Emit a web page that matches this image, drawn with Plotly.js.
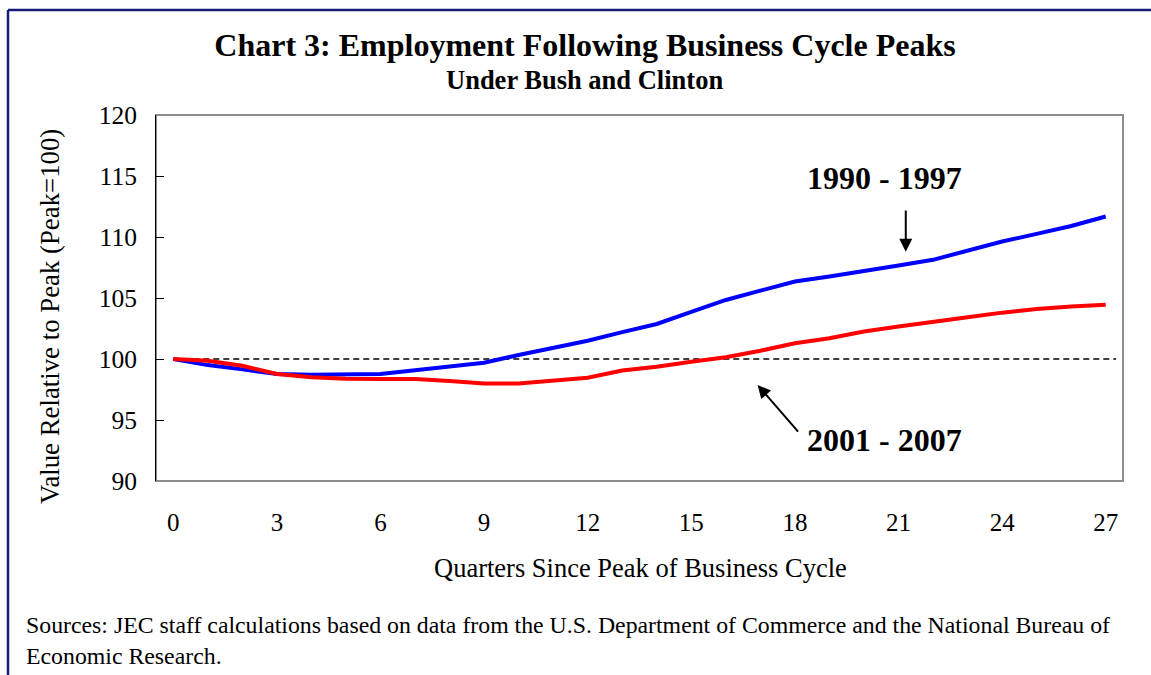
<!DOCTYPE html>
<html>
<head>
<meta charset="utf-8">
<script src="https://cdn.plot.ly/plotly-3.0.1.min.js"></script>
<style>
  body { margin: 0; background: #fff; }
  #chart { width: 1151px; height: 675px; }
</style>
</head>
<body>
<div id="chart"></div>
<script>
// quarters since the peak
let quarters = [];
for (let q = 0; q <= 27; q++) quarters.push(q);

// 1990 - 1997 (blue)
let clinton = [100, 99.5, 99.15, 98.77, 98.7, 98.72, 98.77, 99.07, 99.37, 99.7,
    100.33, 100.88, 101.5, 102.2, 102.87, 103.86, 104.84, 105.6, 106.35, 106.77,
    107.18, 107.67, 108.13, 108.9, 109.63, 110.26, 110.9, 111.68];

// 2001 - 2007 (red)
let bush = [100, 99.86, 99.45, 98.77, 98.5, 98.38, 98.36, 98.36, 98.2, 98.0,
    98.0, 98.2, 98.47, 99.05, 99.37, 99.78, 100.14, 100.68, 101.29, 101.7,
    102.25, 102.66, 103.07, 103.42, 103.8, 104.1, 104.3, 104.45];

let xTicks = [0, 3, 6, 9, 12, 15, 18, 21, 24, 27];
let yTicks = [90, 95, 100, 105, 110, 115, 120];

let serif = "Liberation Serif, Times New Roman, serif";

// zone du graphe en pixels, pour placer les textes
let L = 156, R = 1123, T = 115, B = 481;
function px(x) { return (x - L) / (R - L); }
function py(y) { return (B - y) / (B - T); }

let data = [
    {x: quarters, y: clinton, mode: "lines", line: {color: "#0000ff", width: 4}, hoverinfo: "skip"},
    {x: quarters, y: bush, mode: "lines", line: {color: "#ff0000", width: 4}, hoverinfo: "skip"}
];

function txt(text, x, y, size, extra) {
    return Object.assign({text: text, xref: "paper", yref: "paper", x: px(x), y: py(y),
        xanchor: "center", yanchor: "middle", showarrow: false, font: {size: size}}, extra || {});
}

let layout = {
    width: 1151, height: 675,
    margin: {l: L, r: 1151 - R, t: T, b: 675 - B},
    paper_bgcolor: "#fff", plot_bgcolor: "#fff",
    showlegend: false,
    font: {family: serif, color: "#000", size: 25},
    title: {
        text: "<b>Chart 3: Employment Following Business Cycle Peaks</b>",
        font: {family: serif, size: 32, color: "#000"},
        x: 585 / 1151, xanchor: "center", xref: "container",
        y: 1 - 45 / 675, yanchor: "middle", yref: "container"
    },
    xaxis: {
        range: [-0.5, 27.5], tickvals: xTicks, ticks: "", showgrid: false, zeroline: false,
        showline: false, ticklabelstandoff: 24, tickfont: {size: 25}
    },
    yaxis: {
        range: [90, 120], tickvals: yTicks, ticks: "inside", ticklen: 8, tickcolor: "#000",
        showgrid: false, zeroline: false, showline: true, linecolor: "#000", linewidth: 1,
        ticklabelstandoff: 13, tickfont: {size: 25.5}
    },
    shapes: [
        // cadre gris du graphe
        {type: "rect", xref: "paper", yref: "paper", x0: 0, x1: 1, y0: 0, y1: 1,
         line: {color: "#8c8c8c", width: 2}, layer: "below"},
        // ligne pointillée à 100
        {type: "line", xref: "x", yref: "y", x0: 0, x1: 27.3, y0: 100, y1: 100,
         line: {color: "#000", width: 1.3, dash: "6px,4px"}, layer: "below"},
        // cadre bleu de la page
        {type: "line", xref: "paper", yref: "paper", x0: px(8), x1: px(1160), y0: py(10), y1: py(10),
         line: {color: "#1a1a7a", width: 2.5}},
        {type: "line", xref: "paper", yref: "paper", x0: px(8), x1: px(8), y0: py(10), y1: py(690),
         line: {color: "#1a1a7a", width: 2.5}}
    ],
    annotations: [
        txt("<b>Under Bush and Clinton</b>", 584, 80, 26.5),
        txt("Value Relative to Peak (Peak=100)", 50, 317, 26.8, {textangle: -90}),
        txt("Quarters Since Peak of Business Cycle", 640, 568, 26.5),
        txt("Sources: JEC staff calculations based on data from the U.S. Department of Commerce and the National Bureau of",
            24, 625, 23.8, {xanchor: "left"}),
        txt("Economic Research.", 24, 656, 23.8, {xanchor: "left"}),
        {text: "<b>1990 - 1997</b>", xref: "x", yref: "y", x: 20.6, y: 114.8,
         showarrow: false, font: {size: 32}},
        {text: "<b>2001 - 2007</b>", xref: "x", yref: "y", x: 20.6, y: 93.4,
         showarrow: false, font: {size: 32}},
        // flèches
        {text: "", xref: "x", yref: "y", x: 21.21, y: 108.8, axref: "x", ayref: "y", ax: 21.21, ay: 112.3,
         showarrow: true, arrowhead: 2, arrowsize: 1.3, arrowwidth: 2, arrowcolor: "#000"},
        {text: "", xref: "x", yref: "y", x: 16.92, y: 97.87, axref: "x", ayref: "y", ax: 18.13, ay: 93.92,
         showarrow: true, arrowhead: 2, arrowsize: 1.3, arrowwidth: 2, arrowcolor: "#000"}
    ]
};

Plotly.newPlot("chart", data, layout, {displayModeBar: false, staticPlot: true});
</script>
</body>
</html>
